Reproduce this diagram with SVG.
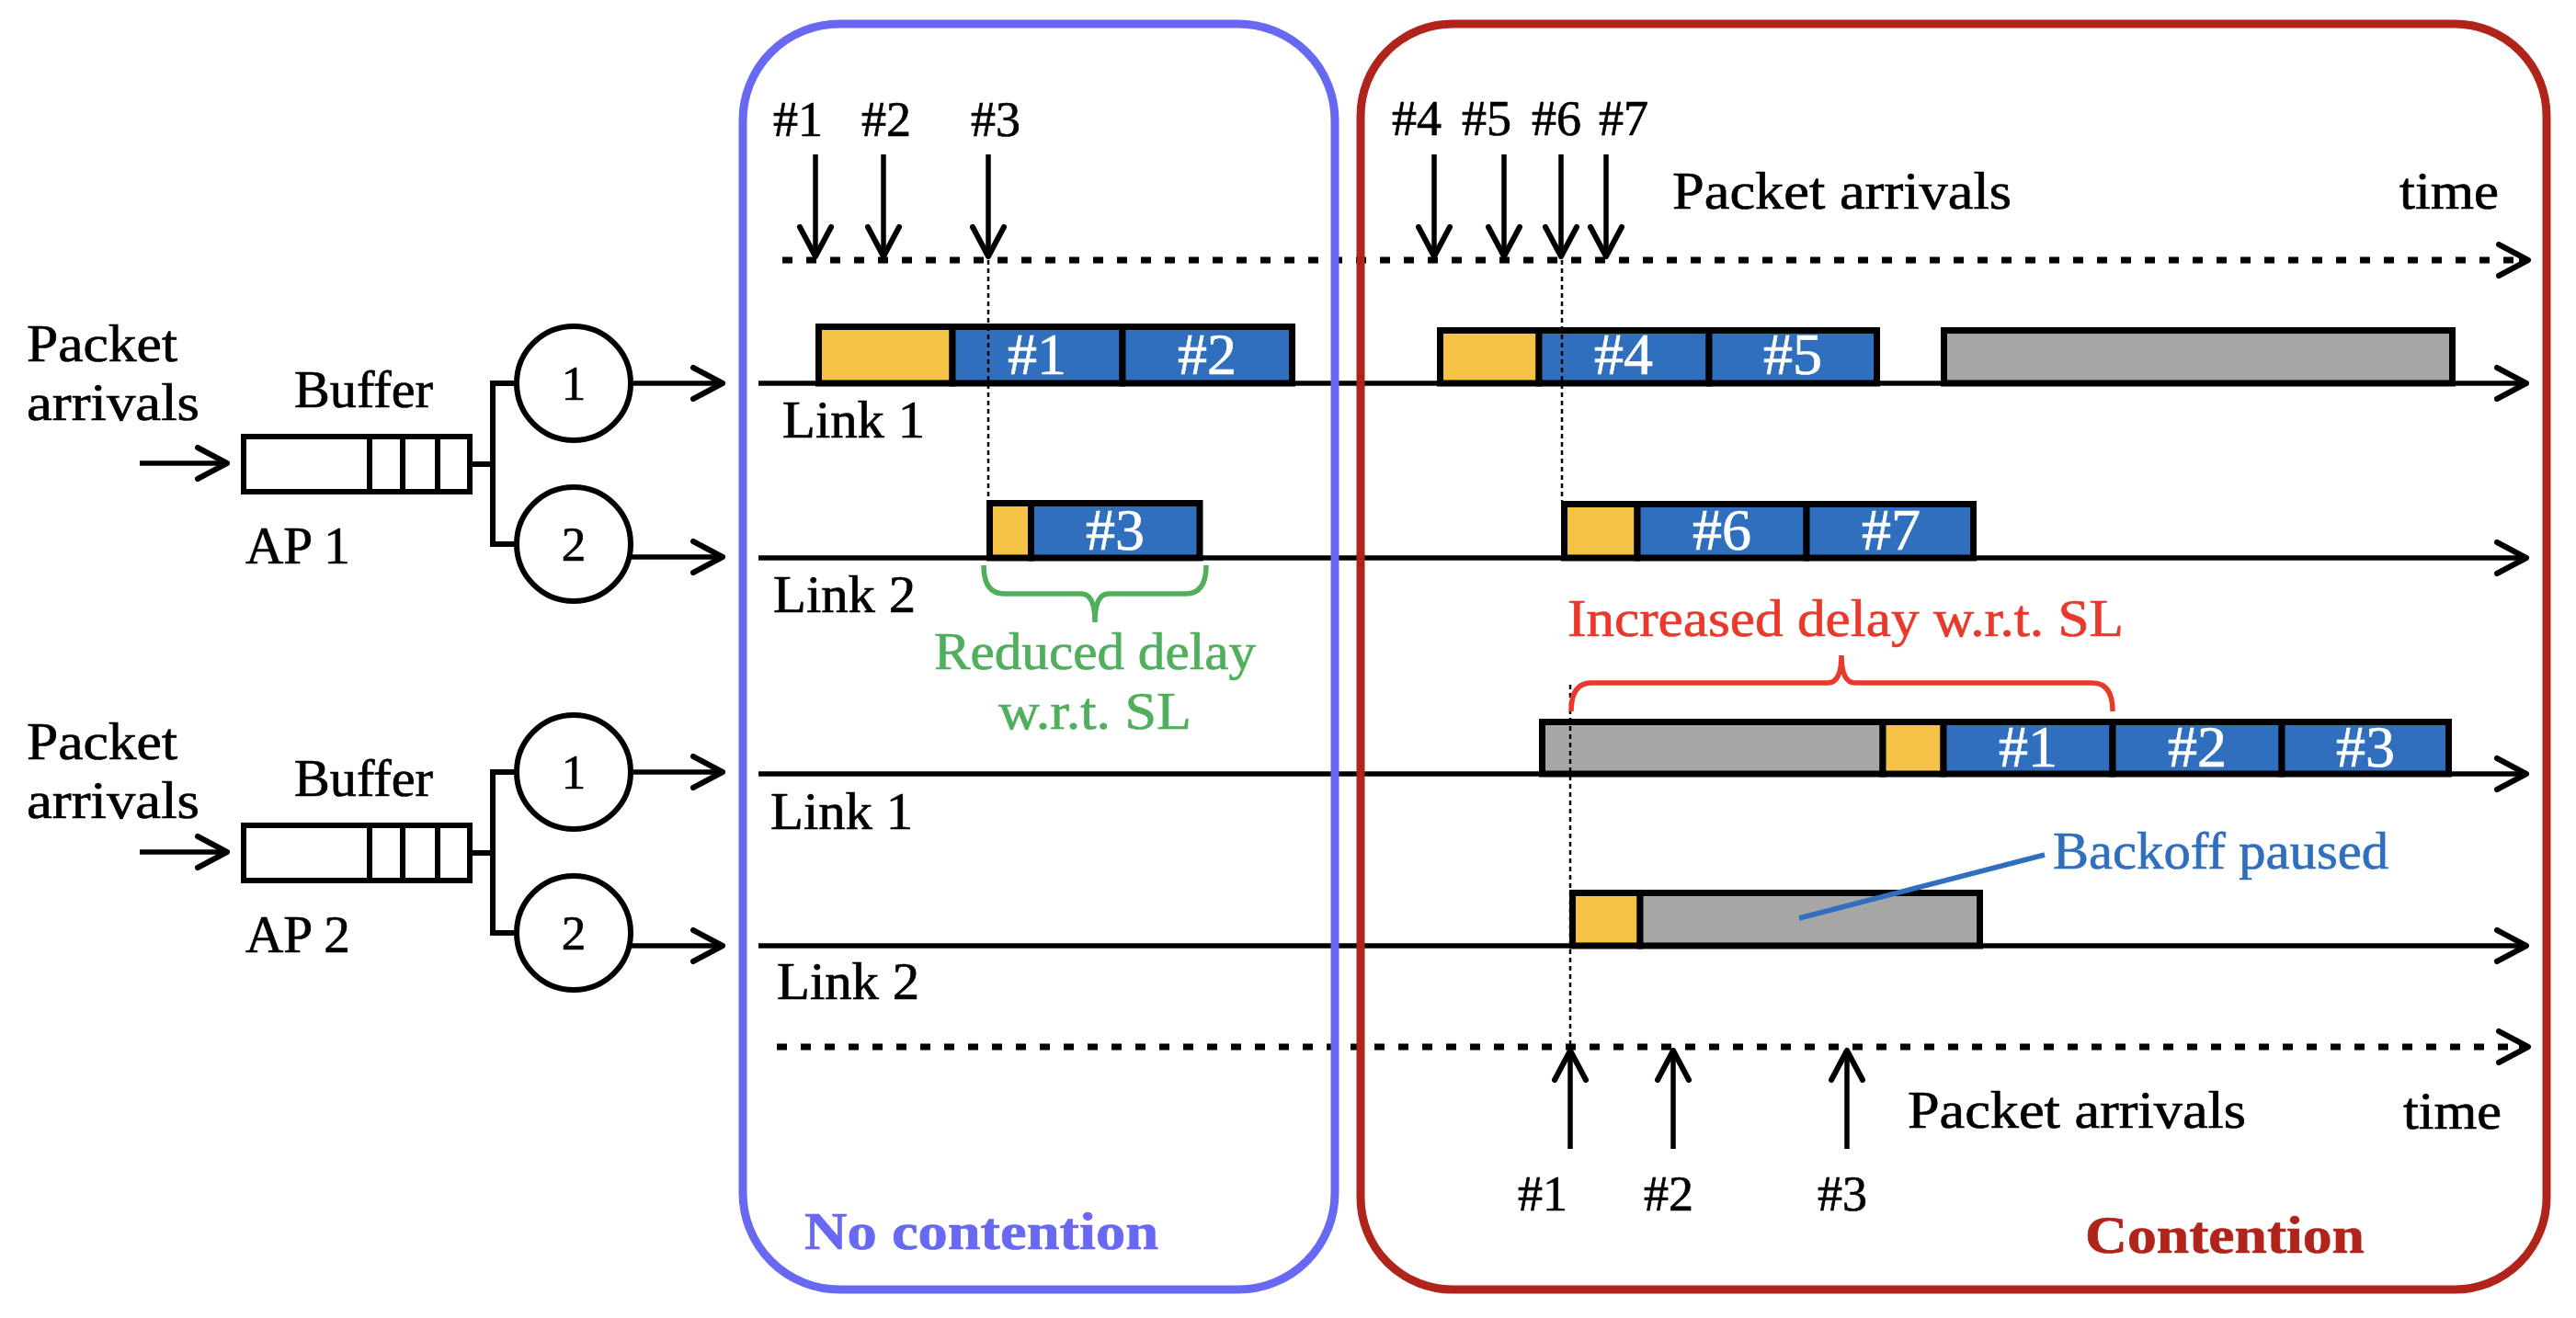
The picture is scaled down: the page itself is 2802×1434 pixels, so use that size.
<svg xmlns="http://www.w3.org/2000/svg" width="2802" height="1434" viewBox="0 0 2802 1434">
<defs>
<style>
text { font-family: "Liberation Serif", "Times New Roman", serif; fill: #000; stroke: #000; stroke-width: 0.7; }
.lbl { font-size: 56px; }
.num { font-size: 54px; text-anchor: middle; }
.bn { font-size: 64px; fill: #fff; stroke: #fff; text-anchor: middle; }
.cn { font-size: 53px; text-anchor: middle; }
.grn { fill: #50AF5C; stroke: #50AF5C; }
.red { fill: #E8392B; stroke: #E8392B; }
.blu { fill: #306FBE; stroke: #306FBE; }
.line { stroke: #000; stroke-width: 6; fill: none; }
.dash { stroke: #000; stroke-width: 7; stroke-dasharray: 11 15; fill: none; }
.dot { stroke: #000; stroke-width: 2.5; stroke-dasharray: 5 4; fill: none; }
.arrow { stroke: #000; stroke-width: 5.5; fill: none; marker-end: url(#arr); }
.pkt { stroke: #000; stroke-width: 7; }
.y { fill: #F4C244; }
.b { fill: #306FBE; }
.g { fill: #A6A6A6; }
.node { fill: #fff; stroke: #000; stroke-width: 6; }
</style>
<marker id="arr" viewBox="-40 -24 48 48" markerWidth="48" markerHeight="48" refX="0" refY="0" orient="auto" markerUnits="userSpaceOnUse">
<path d="M-32,-17 L0,0 L-32,17" fill="none" stroke="#000" stroke-width="6" stroke-linecap="round" stroke-linejoin="round"/>
</marker>
</defs>
<rect x="0" y="0" width="2802" height="1434" fill="#fff"/>

<!-- AP 1 -->
<g id="ap1">
<text class="lbl" x="29" y="393" textLength="164" lengthAdjust="spacingAndGlyphs">Packet</text>
<text class="lbl" x="29" y="457" textLength="188" lengthAdjust="spacingAndGlyphs">arrivals</text>
<text class="lbl" x="320" y="443" textLength="151" lengthAdjust="spacingAndGlyphs">Buffer</text>
<rect class="node" x="265" y="475" width="246" height="60"/>
<path class="line" d="M402,475 V535 M438,475 V535 M476,475 V535"/>
<text class="lbl" x="267" y="613" textLength="114" lengthAdjust="spacingAndGlyphs">AP 1</text>
<path class="line" d="M511,505 H536 M562,417 H536 V592 H562"/>
<circle class="node" cx="624" cy="417" r="62" stroke-width="5.5"/>
<text class="cn" x="624" y="435">1</text>
<circle class="node" cx="624" cy="592" r="62" stroke-width="5.5"/>
<text class="cn" x="624" y="610">2</text>
</g>

<!-- AP 2 -->
<g id="ap2">
<text class="lbl" x="29" y="826" textLength="164" lengthAdjust="spacingAndGlyphs">Packet</text>
<text class="lbl" x="29" y="890" textLength="188" lengthAdjust="spacingAndGlyphs">arrivals</text>
<text class="lbl" x="320" y="866" textLength="151" lengthAdjust="spacingAndGlyphs">Buffer</text>
<rect class="node" x="265" y="898" width="246" height="60"/>
<path class="line" d="M402,898 V958 M438,898 V958 M476,898 V958"/>
<text class="lbl" x="267" y="1036" textLength="114" lengthAdjust="spacingAndGlyphs">AP 2</text>
<path class="line" d="M511,928 H536 M562,840 H536 V1015 H562"/>
<circle class="node" cx="624" cy="840" r="62" stroke-width="5.5"/>
<text class="cn" x="624" y="858">1</text>
<circle class="node" cx="624" cy="1015" r="62" stroke-width="5.5"/>
<text class="cn" x="624" y="1033">2</text>
</g>

<!-- packet transmissions -->
<g id="ap1-link1-packets">
<rect class="pkt y" x="890.5" y="355.5" width="145.5" height="61.5"/>
<rect class="pkt b" x="1036" y="355.5" width="185" height="61.5"/>
<rect class="pkt b" x="1221" y="355.5" width="184.5" height="61.5"/>
<text class="bn" x="1128" y="407">#1</text>
<text class="bn" x="1313" y="407">#2</text>
<rect class="pkt y" x="1566.5" y="359.5" width="107.5" height="57.5"/>
<rect class="pkt b" x="1674" y="359.5" width="185" height="57.5"/>
<rect class="pkt b" x="1859" y="359.5" width="182.5" height="57.5"/>
<text class="bn" x="1766" y="407">#4</text>
<text class="bn" x="1950" y="407">#5</text>
<rect class="pkt g" x="2114.5" y="359.5" width="553" height="57.5"/>
</g>
<g id="ap1-link2-packets">
<rect class="pkt y" x="1076.5" y="547.5" width="45" height="59.5"/>
<rect class="pkt b" x="1121.5" y="547.5" width="183.5" height="59.5"/>
<text class="bn" x="1213" y="598">#3</text>
<rect class="pkt y" x="1701.5" y="548.5" width="79.5" height="58.5"/>
<rect class="pkt b" x="1781" y="548.5" width="184" height="58.5"/>
<rect class="pkt b" x="1965" y="548.5" width="181.5" height="58.5"/>
<text class="bn" x="1873" y="598">#6</text>
<text class="bn" x="2057" y="598">#7</text>
</g>
<g id="ap2-link1-packets">
<rect class="pkt g" x="1677.5" y="785.5" width="370.5" height="56.5"/>
<rect class="pkt y" x="2048" y="785.5" width="66" height="56.5"/>
<rect class="pkt b" x="2114" y="785.5" width="184" height="56.5"/>
<rect class="pkt b" x="2298" y="785.5" width="184" height="56.5"/>
<rect class="pkt b" x="2482" y="785.5" width="181.5" height="56.5"/>
<text class="bn" x="2206" y="834">#1</text>
<text class="bn" x="2390" y="834">#2</text>
<text class="bn" x="2573" y="834">#3</text>
</g>
<g id="ap2-link2-packets">
<rect class="pkt y" x="1710.5" y="971.5" width="73.5" height="57.5"/>
<rect class="pkt g" x="1784" y="971.5" width="369.5" height="57.5"/>
</g>

<!-- connectors: time axes and arrows -->
<g id="connectors">
<path class="dash" d="M851,283 H2746"/>
<path class="arrow" d="M2740,283 H2750"/>
<path class="arrow" d="M825,417 H2748"/>
<path class="arrow" d="M825,607 H2748"/>
<path class="arrow" d="M825,842 H2748"/>
<path class="arrow" d="M825,1029 H2748"/>
<path class="dash" d="M845,1139 H2746"/>
<path class="arrow" d="M2740,1139 H2750"/>

<path class="arrow" d="M152,504 H247"/>
<path class="arrow" d="M689,417 H786"/>
<path class="arrow" d="M686,606 H786"/>
<path class="arrow" d="M152,927 H247"/>
<path class="arrow" d="M689,840 H786"/>
<path class="arrow" d="M686,1029 H786"/>

<path class="arrow" d="M887,168 V279"/>
<path class="arrow" d="M961,168 V279"/>
<path class="arrow" d="M1075,168 V279"/>
<path class="arrow" d="M1560,168 V279"/>
<path class="arrow" d="M1636,168 V279"/>
<path class="arrow" d="M1698,168 V279"/>
<path class="arrow" d="M1747,168 V279"/>

<path class="arrow" d="M1708,1250 V1143"/>
<path class="arrow" d="M1820,1250 V1143"/>
<path class="arrow" d="M2009,1250 V1143"/>

<path class="dot" d="M1075,283 V544"/>
<path class="dot" d="M1699,283 V545"/>
<path class="dot" d="M1708,745 V1139"/>
</g>

<!-- arrival labels -->
<g id="arrival-labels">
<text class="num" x="868" y="148">#1</text>
<text class="num" x="964" y="148">#2</text>
<text class="num" x="1083" y="148">#3</text>
<text class="num" x="1541" y="147">#4</text>
<text class="num" x="1617" y="147">#5</text>
<text class="num" x="1693" y="147">#6</text>
<text class="num" x="1766" y="147">#7</text>
<text class="lbl" x="1819" y="227" textLength="369" lengthAdjust="spacingAndGlyphs">Packet arrivals</text>
<text class="lbl" x="2610" y="227" textLength="108" lengthAdjust="spacingAndGlyphs">time</text>
<text class="num" x="1678" y="1317">#1</text>
<text class="num" x="1815" y="1317">#2</text>
<text class="num" x="2004" y="1317">#3</text>
<text class="lbl" x="2075" y="1227" textLength="368" lengthAdjust="spacingAndGlyphs">Packet arrivals</text>
<text class="lbl" x="2614" y="1228" textLength="107" lengthAdjust="spacingAndGlyphs">time</text>
</g>

<g id="link-labels">
<text class="lbl" x="851" y="476" textLength="155" lengthAdjust="spacingAndGlyphs">Link 1</text>
<text class="lbl" x="841" y="666" textLength="155" lengthAdjust="spacingAndGlyphs">Link 2</text>
<text class="lbl" x="838" y="902" textLength="155" lengthAdjust="spacingAndGlyphs">Link 1</text>
<text class="lbl" x="845" y="1087" textLength="155" lengthAdjust="spacingAndGlyphs">Link 2</text>
</g>

<!-- annotations -->
<g id="reduced-delay">
<path d="M1070,615 Q1070,646 1092,646 L1176,646 Q1191,646 1191,677 Q1191,646 1206,646 L1290,646 Q1312,646 1312,615" fill="none" stroke="#50AF5C" stroke-width="5.5"/>
<text class="lbl grn" x="1016" y="728" textLength="350" lengthAdjust="spacingAndGlyphs">Reduced delay</text>
<text class="lbl grn" x="1086" y="793" textLength="210" lengthAdjust="spacingAndGlyphs">w.r.t. SL</text>
</g>
<g id="increased-delay">
<path d="M1709,774 Q1709,743 1731,743 L1988,743 Q2003,743 2003,713 Q2003,743 2018,743 L2276,743 Q2298,743 2298,774" fill="none" stroke="#E8392B" stroke-width="5.5"/>
<text class="lbl red" x="1705" y="692" textLength="605" lengthAdjust="spacingAndGlyphs">Increased delay w.r.t. SL</text>
</g>
<g id="backoff-paused">
<path d="M1957,999 L2224,930" stroke="#306FBE" stroke-width="5.5" fill="none"/>
<text class="lbl blu" x="2233" y="945" textLength="365" lengthAdjust="spacingAndGlyphs">Backoff paused</text>
</g>

<!-- panels -->
<g id="no-contention">
<rect x="808" y="26" width="644" height="1377" rx="105" ry="105" fill="none" stroke="#6868F2" stroke-width="9"/>
<text class="lbl" x="875" y="1359" textLength="385" lengthAdjust="spacingAndGlyphs" style="fill:#6868F2;stroke:#6868F2;font-weight:bold">No contention</text>
</g>
<g id="contention">
<rect x="1480" y="26" width="1290" height="1377" rx="100" ry="100" fill="none" stroke="#B0241B" stroke-width="9"/>
<text class="lbl" x="2268" y="1363" textLength="304" lengthAdjust="spacingAndGlyphs" style="fill:#B0241B;stroke:#B0241B;font-weight:bold">Contention</text>
</g>
</svg>
